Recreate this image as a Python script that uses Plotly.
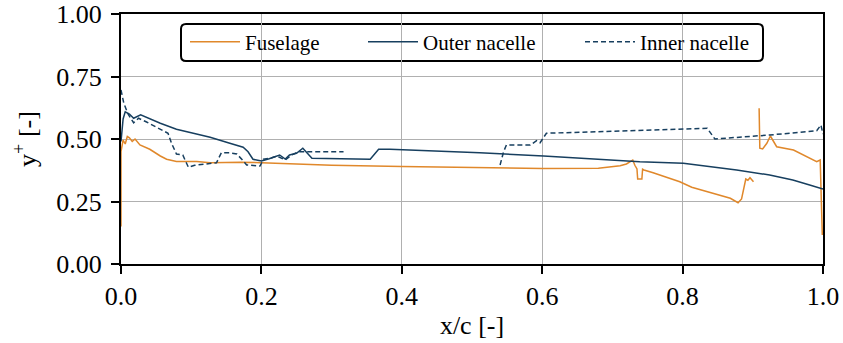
import plotly.graph_objects as go

# Fuselage
fus_x = [0.0, 0.0, 0.003, 0.006, 0.009, 0.012, 0.016, 0.02, 0.027, 0.041, 0.056, 0.065, 0.079, 0.108, 0.127, 0.17, 0.2, 0.3, 0.4, 0.5, 0.6, 0.68, 0.711, 0.72, 0.729, 0.732, 0.735, 0.736, 0.742, 0.743, 0.745, 0.758, 0.796, 0.813, 0.853, 0.868, 0.879, 0.884, 0.890, 0.893, 0.896, 0.901,
         None, 0.909, 0.910, 0.914, 0.92, 0.925, 0.934, 0.958, 0.977, 0.991, 0.996, 0.999]
fus_y = [0.15, 0.45, 0.496, 0.48, 0.51, 0.505, 0.49, 0.50, 0.476, 0.459, 0.432, 0.419, 0.41, 0.41, 0.405, 0.407, 0.405, 0.395, 0.39, 0.385, 0.382, 0.383, 0.393, 0.40, 0.416, 0.395, 0.38, 0.34, 0.34, 0.379, 0.376, 0.365, 0.329, 0.307, 0.276, 0.263, 0.245, 0.26, 0.34, 0.335, 0.345, 0.329,
         None, 0.623, 0.463, 0.46, 0.483, 0.512, 0.469, 0.456, 0.429, 0.409, 0.416, 0.116]

# Outer nacelle
out_x = [0.0, 0.003, 0.006, 0.012, 0.018, 0.028, 0.056, 0.079, 0.103, 0.127, 0.155, 0.174, 0.181, 0.188, 0.200, 0.21, 0.226, 0.234, 0.24, 0.25, 0.259, 0.265, 0.272, 0.355, 0.367, 0.383, 0.511, 0.602, 0.711, 0.739, 0.801, 0.877, 0.924, 0.957, 0.981, 1.0]
out_y = [0.49, 0.58, 0.609, 0.60, 0.583, 0.597, 0.563, 0.539, 0.523, 0.507, 0.483, 0.467, 0.449, 0.419, 0.412, 0.42, 0.436, 0.42, 0.436, 0.443, 0.463, 0.445, 0.423, 0.419, 0.459, 0.459, 0.445, 0.432, 0.416, 0.409, 0.403, 0.376, 0.356, 0.336, 0.316, 0.30]

# Inner nacelle
inn_x = [0.0, 0.004, 0.01, 0.018, 0.025, 0.035, 0.067, 0.072, 0.079, 0.088, 0.096, 0.105, 0.136, 0.143, 0.155, 0.165, 0.173, 0.179, 0.198, 0.203, 0.215, 0.222, 0.234, 0.243, 0.253, 0.262, 0.317,
         None, 0.540, 0.545, 0.549, 0.583, 0.592, 0.597, 0.606, 0.739, 0.835, 0.846, 0.924, 0.991, 0.997, 1.0]
inn_y = [0.696, 0.643, 0.60, 0.565, 0.583, 0.57, 0.523, 0.483, 0.44, 0.436, 0.387, 0.395, 0.405, 0.445, 0.445, 0.44, 0.416, 0.396, 0.392, 0.419, 0.425, 0.432, 0.416, 0.436, 0.449, 0.449, 0.449,
         None, 0.396, 0.449, 0.476, 0.476, 0.493, 0.485, 0.523, 0.533, 0.543, 0.50, 0.516, 0.533, 0.556, 0.52]

x_ticks = [0.0, 0.2, 0.4, 0.6, 0.8, 1.0]
y_ticks = [0.0, 0.25, 0.5, 0.75, 1.0]

ORANGE = "#E0882B"
NAVY = "#173F5F"
FONT = "Liberation Serif, Times New Roman, serif"

fig = go.Figure()
fig.add_trace(go.Scatter(x=fus_x, y=fus_y, mode="lines", name="Fuselage", legend="legend", showlegend=True,
                         line=dict(color=ORANGE, width=1.5), connectgaps=False))
fig.add_trace(go.Scatter(x=out_x, y=out_y, mode="lines", name="Outer nacelle", legend="legend2", showlegend=True,
                         line=dict(color=NAVY, width=1.5), connectgaps=False))
fig.add_trace(go.Scatter(x=inn_x, y=inn_y, mode="lines", name="Inner nacelle", legend="legend3", showlegend=True,
                         line=dict(color=NAVY, width=1.5, dash="5px,3px"), connectgaps=False))

axis_common = dict(showline=True, linecolor="black", linewidth=2, mirror=True,
                   ticks="outside", ticklen=8, tickwidth=1.5, tickcolor="black",
                   showgrid=True, gridcolor="#b0b0b0", gridwidth=1, zeroline=False,
                   automargin=False,
                   tickfont=dict(family=FONT, size=26, color="black"))

fig.update_xaxes(range=[0, 1], tickvals=x_ticks, tickformat=".1f",
                 title=dict(text="x/c [-]", font=dict(family=FONT, size=26, color="black"), standoff=6),
                 **axis_common)
fig.update_yaxes(range=[0, 1], tickvals=y_ticks, tickformat=".2f", ticklabelstandoff=4,
                 title=dict(text="y<sup>+</sup> [-]", font=dict(family=FONT, size=26, color="black"), standoff=12),
                 **axis_common)

def leg(xpx):
    return dict(orientation="h", x=(xpx - 121) / 702, xanchor="left", y=(264 - 42) / 250, yanchor="middle",
                bgcolor="rgba(0,0,0,0)", borderwidth=0,
                font=dict(family=FONT, size=21, color="black"), itemwidth=50)

# rounded legend frame (paper coordinates)
bx0, bx1 = (181 - 121) / 702, (763 - 121) / 702
by0, by1 = (264 - 61) / 250, (264 - 24) / 250
rx, ry = 5 / 702, 5 / 250
frame_path = (f"M{bx0+rx},{by1} L{bx1-rx},{by1} Q{bx1},{by1} {bx1},{by1-ry} "
              f"L{bx1},{by0+ry} Q{bx1},{by0} {bx1-rx},{by0} L{bx0+rx},{by0} "
              f"Q{bx0},{by0} {bx0},{by0+ry} L{bx0},{by1-ry} Q{bx0},{by1} {bx0+rx},{by1} Z")

fig.update_layout(
    width=843, height=343,
    margin=dict(l=121, r=20, t=14, b=79),
    plot_bgcolor="white", paper_bgcolor="white",
    font=dict(family=FONT, color="black"),
    showlegend=True,
    legend=leg(185),
    legend2=leg(363),
    legend3=leg(580),
    shapes=[dict(type="path", xref="paper", yref="paper", path=frame_path,
                 line=dict(color="black", width=2), fillcolor="white", layer="between")],
)

fig.write_html("out.html")
